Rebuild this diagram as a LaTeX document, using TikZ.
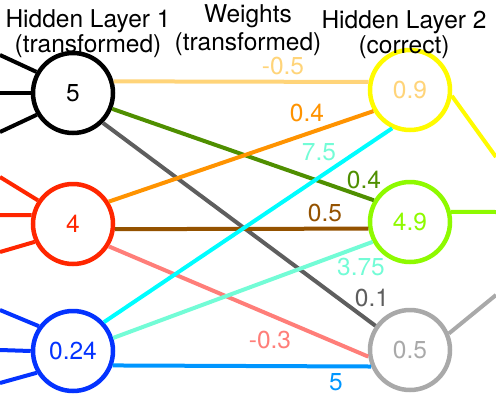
\documentclass[tikz,border=0pt]{standalone}
\usepackage{fontspec}
\setmainfont{TeX Gyre Heros}
\definecolor{cantaloupe}{HTML}{FFD479}
\definecolor{tangerine}{HTML}{FF9300}
\definecolor{fern}{HTML}{4F8F00}
\definecolor{iron}{HTML}{5E5E5E}
\definecolor{mocha}{HTML}{945200}
\definecolor{salmon}{HTML}{FF7E79}
\definecolor{turquoise}{HTML}{00FDFF}
\definecolor{spindrift}{HTML}{73FCD6}
\definecolor{aqua}{HTML}{0096FF}
\definecolor{maraschino}{HTML}{FF2600}
\definecolor{blueberry}{HTML}{0433FF}
\definecolor{lemon}{HTML}{FFFB00}
\definecolor{lime}{HTML}{8EFA00}
\definecolor{aluminum}{HTML}{A9A9A9}

\begin{document}
\begin{tikzpicture}[x=1pt, y=-1pt, neuron/.style={draw, circle, minimum size=80pt, line width=4.5pt, inner sep=0pt, font=\fontsize{24.5}{20}\selectfont}, wt/.style={line width=4pt}, lbl/.style={inner sep=0pt, font=\fontsize{24.5}{20}\selectfont}, title/.style={align=center, inner sep=0pt, anchor=base, font=\fontsize{24.5}{20}\selectfont}]
            \useasboundingbox (0,0) rectangle (496,400);
            % hidden layer 1
            \node[neuron] (A) at (73,93) {5};
            \node[neuron, draw=maraschino, text=maraschino] (B) at (73,224) {4};
            \node[neuron, draw=blueberry, text=blueberry] (C) at (73,351) {0.24};
            % hidden layer 2
            \node[neuron, draw=lemon, text=cantaloupe] (D) at (410,90) {0.9};
            \node[neuron, draw=lime, text=lime] (E) at (410,222) {4.9};
            \node[neuron, draw=aluminum, text=aluminum] (F) at (410,350) {0.5};
            % inputs
            \foreach \n/\y/\a/\c [count=\i] in {A/55/150/black, A/93/180/black, A/132/211/black, B/177/146/maraschino, B/215/168/maraschino, B/252/205/maraschino, C/310/144/blueberry, C/350/180/blueberry, C/383/211/blueberry} {
                \coordinate (in\i) at (0,\y);
                \draw[wt, \c] (in\i) -- (\n.\a);
            }
            % outputs
            \coordinate (outD) at (496,157);
            \coordinate (outE) at (496,212);
            \coordinate (outF) at (496,295);
            \draw[wt, lemon] (D.-8) -- (outD);
            \draw[wt, lime] (E.14) -- (outE);
            \draw[wt, aluminum] (F.23) -- (outF);
            % weights
            \foreach \s/\sa/\t/\ta/\c in {A/-45/F/145/iron, A/-22/E/149/fern, A/16/D/169/cantaloupe, B/32/D/210/tangerine, B/-7/E/189/mocha, B/-32/F/189/salmon, C/18/E/208/spindrift, C/-20/F/203/aqua, C/43/D/245/turquoise}
                \draw[wt, \c] (\s.\sa) -- (\t.\ta);
            \node[lbl, text=cantaloupe] (wAD) at (283,66) {-0.5};
            \node[lbl, text=tangerine] (wBD) at (307,113) {0.4};
            \node[lbl, text=spindrift] (wCD) at (319,152) {7.5};
            \node[lbl, text=fern] (wAE) at (364,180) {0.4};
            \node[lbl, text=mocha] (wBE) at (325,213) {0.5};
            \node[lbl, text=spindrift] (wCE) at (361,267) {3.75};
            \node[lbl, text=iron] (wAF) at (372,298) {0.1};
            \node[lbl, text=salmon] (wBF) at (270,340) {-0.3};
            \node[lbl, text=aqua] (wCF) at (336,382) {5};
            % titles
            \node[title] (T1) at (88,52) {Hidden Layer 1\\(transformed)};
            \node[title] (T2) at (248,50) {Weights\\[3pt](transformed)};
            \node[title] (T3) at (404,53) {Hidden Layer 2\\(correct)};
        \end{tikzpicture}
\end{document}
